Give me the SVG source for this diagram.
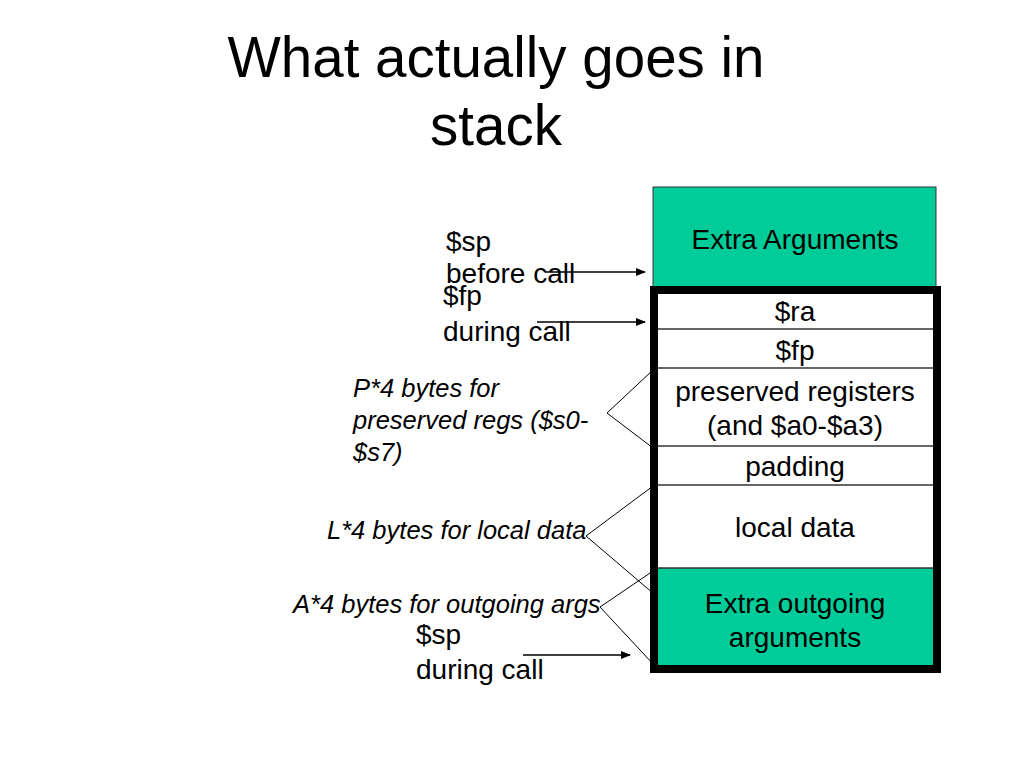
<svg xmlns="http://www.w3.org/2000/svg" width="1024" height="768" viewBox="0 0 1024 768">
<defs>
<marker id="ah" markerWidth="10" markerHeight="8" refX="9" refY="4" orient="auto" markerUnits="userSpaceOnUse">
<path d="M0,0 L10,4 L0,8 z" fill="#000"/>
</marker>
<style>
.t{font-family:"Liberation Sans",Arial,sans-serif;fill:#000}
.title{font-size:56.5px;text-anchor:middle}
.cell{font-size:28px;text-anchor:middle}
.lab{font-size:28px}
.it{font-size:25.5px;font-style:italic}
.div{stroke:#333;stroke-width:1.5}
.br{stroke:#000;stroke-width:1;fill:none}
.arr{stroke:#000;stroke-width:1.3;marker-end:url(#ah)}
</style>
</defs>
<rect width="1024" height="768" fill="#fff"/>
<g id="title">
<text class="t title" x="496" y="77">What actually goes in</text>
<text class="t title" x="496" y="145">stack</text>
</g>
<g id="extra-arguments">
<rect x="653" y="187" width="283" height="103" fill="#00CC99" stroke="#333" stroke-width="1"/>
<text class="t cell" x="795" y="249">Extra Arguments</text>
</g>
<g id="frame">
<rect x="654" y="290" width="283" height="379" fill="#fff"/>
<rect x="658" y="568" width="275" height="97" fill="#00CC99"/>
<line class="div" x1="658" y1="329" x2="933" y2="329"/>
<line class="div" x1="658" y1="368" x2="933" y2="368"/>
<line class="div" x1="658" y1="446" x2="933" y2="446"/>
<line class="div" x1="658" y1="485" x2="933" y2="485"/>
<line class="div" x1="658" y1="568" x2="933" y2="568"/>
<rect x="654" y="290" width="283" height="379" fill="none" stroke="#000" stroke-width="8"/>
</g>
<g id="ra"><text class="t cell" x="795" y="321">$ra</text></g>
<g id="fp"><text class="t cell" x="795" y="360">$fp</text></g>
<g id="preserved"><text class="t cell" x="795" y="401">preserved registers</text><text class="t cell" x="795" y="435">(and $a0-$a3)</text></g>
<g id="padding"><text class="t cell" x="795" y="476">padding</text></g>
<g id="local"><text class="t cell" x="795" y="537">local data</text></g>
<g id="outgoing"><text class="t cell" x="795" y="613">Extra outgoing</text><text class="t cell" x="795" y="647">arguments</text></g>
<g id="labels">
<text class="t lab" x="446" y="251">$sp</text>
<text class="t lab" x="446" y="283">before call</text>
<text class="t lab" x="443" y="305">$fp</text>
<text class="t lab" x="443" y="341">during call</text>
<text class="t it" x="353" y="397">P*4 bytes for</text>
<text class="t it" x="353" y="429">preserved regs ($s0-</text>
<text class="t it" x="353" y="461">$s7)</text>
<text class="t it" x="327" y="539">L*4 bytes for local data</text>
<text class="t it" x="293" y="613">A*4 bytes for outgoing args</text>
<text class="t lab" x="416" y="644">$sp</text>
<text class="t lab" x="416" y="679">during call</text>
</g>
<g id="connectors">
<line class="arr" x1="545" y1="272" x2="645" y2="272"/>
<line class="arr" x1="537" y1="322" x2="645" y2="322"/>
<line class="arr" x1="523" y1="655" x2="630" y2="655"/>
<polyline class="br" points="653,370 607,413 653,448"/>
<polyline class="br" points="653,486 586,536 654,594"/>
<polyline class="br" points="653,571 600,607 654,665"/>
</g>
</svg>
